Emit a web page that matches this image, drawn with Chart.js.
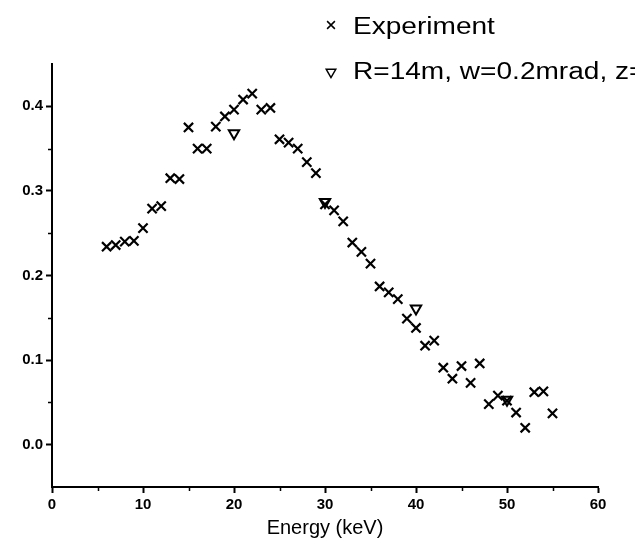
<!DOCTYPE html>
<html>
<head>
<meta charset="utf-8">
<script src="https://cdn.jsdelivr.net/npm/chart.js@4.4.1/dist/chart.umd.min.js"></script>
<style>
  html, body { margin: 0; padding: 0; background: #fff; }
  #wrap { width: 635px; height: 552px; position: relative; }
</style>
</head>
<body>
<div id="wrap"><canvas id="chart"></canvas></div>
<script>
// Energy (keV) for the measured points
const energies = [6, 7, 8, 9, 10, 11, 12, 13, 14, 15, 16, 17, 18, 19, 20, 21, 22, 23, 24, 25,
  26, 27, 28, 29, 30, 31, 32, 33, 34, 35, 36, 37, 38, 39, 40, 41, 42, 43, 44, 45,
  46, 47, 48, 49, 50, 51, 52, 53, 54, 55];
const experiment = [0.234, 0.236, 0.240, 0.241, 0.256, 0.279, 0.282, 0.315, 0.314, 0.375,
  0.350, 0.350, 0.376, 0.388, 0.396, 0.408, 0.415, 0.396, 0.398, 0.361,
  0.357, 0.350, 0.334, 0.321, 0.284, 0.277, 0.264, 0.239, 0.228, 0.214,
  0.187, 0.180, 0.172, 0.149, 0.138, 0.117, 0.123, 0.091, 0.078, 0.093,
  0.073, 0.096, 0.048, 0.058, 0.052, 0.038, 0.020, 0.062, 0.063, 0.037];

// simulation points
const simEnergies = [20, 30, 40, 50];
const simulation = [0.368, 0.287, 0.161, 0.053];

const labels = ["Experiment", "R=14m, w=0.2mrad, z="];
const xTicks = [0, 10, 20, 30, 40, 50, 60];
const yTicks = [0.0, 0.1, 0.2, 0.3, 0.4];

const FONT = "'Liberation Sans', Arial, sans-serif";

// minor tick marks half way between the major ones
const minorTicks = {
  id: "minorTicks",
  afterDraw(chart) {
    const ctx = chart.ctx;
    const xs = chart.scales.x, ys = chart.scales.y;
    const a = chart.chartArea;
    ctx.save();
    ctx.strokeStyle = "#000";
    ctx.lineWidth = 1.5;
    ctx.beginPath();
    for (let i = 0; i < xTicks.length - 1; i++) {
      const px = Math.round(xs.getPixelForValue((xTicks[i] + xTicks[i + 1]) / 2)) + 0.5;
      ctx.moveTo(px, a.bottom);
      ctx.lineTo(px, a.bottom + 4);
    }
    const yMinor = [0.05, 0.15, 0.25, 0.35];
    yMinor.forEach(v => {
      const py = Math.round(ys.getPixelForValue(v)) + 0.5;
      ctx.moveTo(a.left, py);
      ctx.lineTo(a.left - 4, py);
    });
    ctx.stroke();
    ctx.restore();
  }
};

// legend at top right, drawn from the dataset settings
const sideLegend = {
  id: "sideLegend",
  afterDraw(chart) {
    const ctx = chart.ctx;
    const rows = [28, 73];
    ctx.save();
    chart.data.datasets.forEach((ds, i) => {
      const y = rows[i];
      ctx.fillStyle = "#fff";
      ctx.strokeStyle = "#000";
      ctx.lineWidth = 1.5;
      Chart.helpers.drawPoint(ctx, {
        pointStyle: ds.pointStyle,
        rotation: ds.pointRotation || 0,
        radius: i === 0 ? 5.5 : 5.5,
        borderWidth: 1.6
      }, 331, i === 0 ? y - 3 : y - 1);
      ctx.save();
      ctx.translate(353, y);
      ctx.scale(1.22, 1);
      ctx.fillStyle = "#000";
      ctx.font = "23px " + FONT;
      ctx.textBaseline = "middle";
      ctx.fillText(ds.label, 0, 0);
      ctx.restore();
    });
    ctx.restore();
  }
};

new Chart(document.getElementById("chart"), {
  type: "scatter",
  data: {
    datasets: [
      {
        label: labels[0],
        data: energies.map((e, i) => ({ x: e, y: experiment[i] })),
        pointStyle: "crossRot",
        pointRadius: 6.5,
        pointBorderWidth: 2.2,
        borderColor: "#000",
        backgroundColor: "#000"
      },
      {
        label: labels[1],
        data: simEnergies.map((e, i) => ({ x: e, y: simulation[i] })),
        pointStyle: "triangle",
        pointRotation: 180,
        pointRadius: 6,
        pointBorderWidth: 2,
        borderColor: "#000",
        backgroundColor: "rgba(255,255,255,0)"
      }
    ]
  },
  options: {
    responsive: true,
    maintainAspectRatio: false,
    animation: false,
    layout: { padding: { top: 64, right: 37, left: 0, bottom: 0 } },
    plugins: {
      legend: { display: false },
      tooltip: { enabled: false }
    },
    scales: {
      x: {
        type: "linear",
        min: 0,
        max: 60,
        afterBuildTicks: s => { s.ticks = xTicks.map(v => ({ value: v })); },
        afterFit: s => { s.height = 65; },
        border: { display: true, color: "#000", width: 2 },
        grid: { drawOnChartArea: false, drawTicks: true, tickLength: 6, tickWidth: 2, tickColor: "#000" },
        ticks: {
          color: "#000",
          padding: 3,
          font: { family: FONT, size: 15, weight: "bold" }
        },
        title: {
          display: true,
          text: "Energy (keV)",
          color: "#000",
          padding: { top: 4, bottom: 12 },
          font: { family: FONT, size: 20 }
        }
      },
      y: {
        type: "linear",
        min: -0.05,
        max: 0.45,
        afterBuildTicks: s => { s.ticks = yTicks.map(v => ({ value: v })); },
        afterFit: s => { s.width = 52; },
        border: { display: true, color: "#000", width: 2 },
        grid: { drawOnChartArea: false, drawTicks: true, tickLength: 6, tickWidth: 2, tickColor: "#000" },
        ticks: {
          color: "#000",
          padding: 3,
          font: { family: FONT, size: 15, weight: "bold" },
          callback: v => v.toFixed(1)
        }
      }
    }
  },
  plugins: [minorTicks, sideLegend]
});
</script>
</body>
</html>
